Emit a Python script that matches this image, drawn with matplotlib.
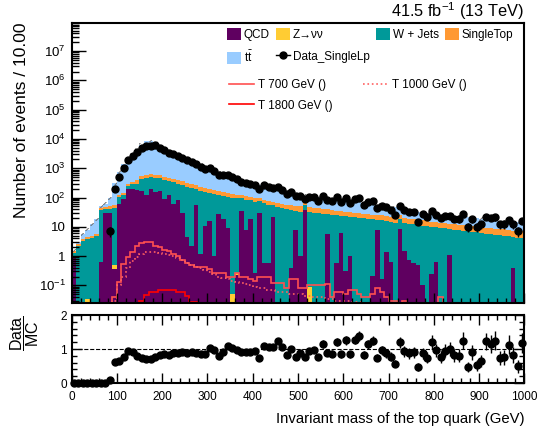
import numpy as np
import matplotlib
matplotlib.use("Agg")
import matplotlib.pyplot as plt
from matplotlib.patches import Patch
from matplotlib.lines import Line2D
from matplotlib.ticker import FixedLocator, LogLocator, MultipleLocator, FuncFormatter, NullFormatter

plt.rcParams['font.family'] = ['Liberation Sans', 'DejaVu Sans']
plt.rcParams['mathtext.fontset'] = 'custom'
plt.rcParams['mathtext.rm'] = 'Liberation Sans'
plt.rcParams['mathtext.it'] = 'Liberation Sans:italic'
plt.rcParams['mathtext.bf'] = 'Liberation Sans:bold'
plt.rcParams['hatch.linewidth'] = 0.7

# 100 bins of 10 GeV
bin_edges = np.linspace(0, 1000, 101)

qcd = [0.95, 0, 0, 0, 0, 0, 0.65, 29, 29, 0.35,
       60, 90, 190, 200, 180, 170, 120, 200, 150, 170,
       90, 120, 60, 80, 29, 4.6, 2.3, 55, 1.2, 10.5,
       16, 1.0, 27, 19, 8.8, 0, 0.22, 35, 8, 18,
       0.26, 30, 0.56, 0.56, 21, 0, 0, 0, 0.38, 8,
       1.0, 37, 0, 0, 0, 0, 5.8, 0, 0.6, 6.2,
       0.3, 1.0, 0, 0, 0, 0, 0.21, 7.8, 0.16, 1.4,
       0.65, 0, 8.7, 1.5, 0.72, 0.6, 0.5, 0.1, 0, 0.25,
       0.65, 0, 0, 1.07, 0, 0, 0, 0, 0, 0,
       0, 0, 0, 0, 0, 0, 0, 0.38, 0, 0]

zvv = [0, 0, 0, 0.035, 0, 0, 0, 0, 0, 0.15,
       0, 0, 0, 0, 0, 0, 0, 0, 0, 0,
       0, 0, 0, 0, 0, 0, 0, 0, 0, 0,
       0, 0, 0, 0, 0, 0.05, 0.04, 0, 0, 0,
       0, 0, 0, 0, 0, 0, 0, 0, 0, 0,
       0, 0, 0.09, 0, 0, 0, 0, 0, 0, 0,
       0, 0, 0, 0, 0, 0, 0, 0, 0, 0,
       0, 0, 0, 0, 0, 0, 0, 0, 0, 0,
       0, 0, 0, 0, 0, 0, 0, 0, 0, 0,
       0, 0, 0, 0, 0, 0, 0, 0, 0, 0]

wjets = [0.35, 2.2, 3.4, 3.8, 4.3, 5.0, 36, 11, 13, 44,
         45, 30, 60, 80, 120, 250, 360, 300, 330, 280,
         310, 250, 280, 220, 240, 225, 203, 135, 169, 145,
         129, 134, 98, 96, 99, 100, 95, 60, 77, 62,
         72, 45, 64, 57, 33, 48, 44, 40, 37, 27,
         32, 18, 31, 30, 29, 28, 21, 26, 24.4, 17.8,
         22.7, 21, 21, 20, 19.5, 19, 17.8, 9.7, 16.8, 14.6,
         14.3, 14, 9.3, 11.5, 11.8, 11.4, 11, 10.9, 10.5, 9.75,
         8.95, 9.2, 8.8, 7.3, 8.0, 7.6, 7.3, 7.0, 6.7, 6.4,
         6.1, 5.8, 5.6, 5.3, 5.1, 4.9, 4.7, 4.1, 4.3, 4.1]

singletop = [0.15, 0.3, 0.5, 0.6, 0.7, 0.9, 6, 7, 8, 10,
             15, 22, 50, 65, 85, 110, 125, 130, 128, 122,
             115, 108, 102, 97, 92, 88, 80, 72, 64, 56,
             50, 45, 41, 38, 35, 32, 30, 28, 26, 24,
             23, 22, 21, 20, 19, 18.5, 18, 17.5, 17, 17,
             17, 16, 15, 14.5, 14, 13, 12.5, 12, 11, 10.5,
             10, 9.6, 9.3, 9, 8.7, 8.4, 8.1, 7.8, 7.5, 7.2,
             7, 6.7, 6.5, 6.3, 6.1, 5.9, 5.7, 5.5, 5.3, 5.1,
             5, 4.8, 4.6, 4.5, 4.3, 4.2, 4.1, 4, 3.9, 3.8,
             3.7, 3.6, 3.5, 3.4, 3.3, 3.2, 3.1, 3.0, 3.0, 2.9]

ttbar = [0.1, 0.5, 1.6, 3.6, 7, 12, 7.4, 15, 45, 255,
         650, 1230, 1700, 2550, 4100, 5870, 7600, 7570, 7190, 5530,
         4385, 3622, 3008, 2553, 2149, 1822, 1535, 1288, 1086, 908,
         760, 652, 558, 478, 419, 358, 312, 266, 236, 212,
         193, 166, 154, 141, 131, 124, 112, 104, 97, 89,
         73, 46, 66, 62, 59, 59, 56, 53, 51, 48.5,
         46, 44.4, 41.7, 40, 37.8, 35.6, 33.9, 32.2, 30.5, 29.3,
         27, 25, 18.2, 20.5, 18.1, 16.4, 15.2, 14.4, 13.7, 13.1,
         12.3, 12, 11.7, 11.1, 10.9, 10.6, 10.2, 9.9, 9.4, 9.1,
         8.8, 8.6, 8.3, 8.1, 7.8, 7.6, 7.3, 7.1, 6.8, 6.6]

data_counts = [0, 0, 0, 0, 0, 0, 0, 0, 7, 195,
               500, 1030, 1900, 2600, 3600, 4800, 5750, 5800, 6000, 5000,
               4120, 3320, 3000, 2630, 2259, 1905, 1638, 1349, 1135, 952,
               993, 799, 586, 581, 607, 500, 424, 350, 316, 288,
               274, 192, 262, 234, 214, 233, 183, 133, 151, 109,
               109, 90, 106, 104, 77, 115, 85, 79, 104, 70,
               99, 64, 92, 95, 54, 72, 75, 43, 53, 46,
               38, 26, 51, 37, 32, 31, 15, 27, 22, 34,
               26, 20, 24, 24, 19, 18, 27, 10, 18, 10,
               12, 22, 20, 21, 12, 12, 17, 12, 7, 16]

t700 = [0, 0, 0, 0, 0, 0, 0, 0, 0, 0.04,
        0.13, 0.55, 0.95, 1.4, 2.2, 2.8, 3.1, 3.0, 2.3, 2.0,
        1.6, 1.5, 1.2, 1.0, 0.73, 0.6, 0.5, 0.44, 0.44, 0.44,
        0.35, 0.26, 0.26, 0.26, 0.2, 0.2, 0.26, 0.2, 0.2, 0.17,
        0.14, 0.2, 0.2, 0.2, 0.12, 0.12, 0.12, 0.08, 0.17, 0.17,
        0.08, 0.08, 0.1, 0.1, 0.1, 0.1, 0.11, 0.04, 0.06, 0.06,
        0.05, 0.07, 0.07, 0.05, 0.04, 0.04, 0.05, 0.08, 0.06, 0.04,
        0.03, 0.03, 0.02, 0.03, 0.02, 0, 0.02, 0, 0, 0,
        0, 0.04, 0, 0, 0, 0, 0, 0, 0, 0,
        0, 0, 0, 0, 0, 0, 0, 0, 0, 0]

t1000 = [0, 0, 0, 0, 0, 0, 0, 0, 0, 0.03,
         0.1, 0.2, 0.4, 0.7, 0.95, 1.2, 1.35, 1.4, 1.35, 1.3,
         1.2, 1.1, 1.0, 0.85, 0.75, 0.6, 0.5, 0.43, 0.38, 0.33,
         0.28, 0.24, 0.2, 0.18, 0.16, 0.14, 0.13, 0.12, 0.11, 0.1,
         0.09, 0.08, 0.08, 0.07, 0.07, 0.06, 0.06, 0.06, 0.05, 0.05,
         0.05, 0.045, 0.045, 0.04, 0.04, 0.04, 0.035, 0.035, 0.03, 0.03,
         0.03, 0.03, 0.028, 0.028, 0.026, 0.026, 0.025, 0.025, 0, 0,
         0, 0, 0, 0, 0, 0, 0, 0, 0, 0,
         0, 0, 0, 0, 0, 0, 0, 0, 0, 0,
         0, 0, 0, 0, 0, 0, 0, 0, 0, 0]

t1800 = [0, 0, 0, 0, 0, 0, 0, 0, 0, 0,
         0, 0, 0, 0, 0, 0.03, 0.047, 0.06, 0.06, 0.068,
         0.07, 0.07, 0.068, 0.06, 0.06, 0.045, 0.028, 0.027, 0, 0,
         0, 0, 0, 0, 0, 0, 0, 0, 0, 0,
         0, 0, 0, 0, 0, 0, 0, 0, 0, 0,
         0, 0, 0, 0, 0, 0, 0, 0, 0, 0,
         0, 0, 0, 0, 0, 0, 0, 0, 0, 0,
         0, 0, 0, 0, 0, 0, 0, 0, 0, 0,
         0, 0, 0, 0, 0, 0, 0, 0, 0, 0,
         0, 0, 0, 0, 0, 0, 0, 0, 0, 0]

mc_unc_frac = 0.12

colors = {"QCD": "#5f0060", "Z": "#ffcc33", "W": "#009999",
          "ST": "#ff9933", "TT": "#99ccff"}
sig_colors = {"700": "#ff5050", "1000": "#ff6060", "1800": "#ff0000"}

fig = plt.figure(figsize=(5.38, 4.30), dpi=100)
ax = fig.add_axes([0.1329, 0.2953, 0.842, 0.6519])
rax = fig.add_axes([0.1329, 0.1093, 0.842, 0.158])

# stacked backgrounds
layers = [(qcd, colors["QCD"]), (zvv, colors["Z"]), (wjets, colors["W"]),
          (singletop, colors["ST"]), (ttbar, colors["TT"])]
bottom = np.zeros(len(bin_edges) - 1)
for vals, col in layers:
    top = bottom + np.array(vals, dtype=float)
    ax.stairs(top, bin_edges, baseline=bottom, fill=True, color=col, lw=0)
    bottom = top
total = bottom

# MC uncertainty band
ax.stairs(total * (1 + mc_unc_frac), bin_edges, baseline=total * (1 - mc_unc_frac),
          fill=True, facecolor="none", edgecolor="#707070", hatch="////", lw=0)

# signals
ax.stairs(t700, bin_edges, color=sig_colors["700"], lw=1.2)
ax.stairs(t1000, bin_edges, color=sig_colors["1000"], lw=1.2, ls=":")
ax.stairs(t1800, bin_edges, color=sig_colors["1800"], lw=1.2)

# data
centers = 0.5 * (bin_edges[1:] + bin_edges[:-1])
data = np.array(data_counts, dtype=float)
has = data > 0
ax.errorbar(centers[has], data[has], yerr=np.sqrt(data[has]), fmt="o", color="k",
            ms=5, elinewidth=1, capsize=0, zorder=5)

ax.set_yscale("log")
ax.set_xlim(0, 1000)
ax.set_ylim(0.025, 9.3e7)

def log_label(v, pos):
    e = int(round(np.log10(v)))
    if e == 0:
        return "1"
    if e == 1:
        return "10"
    return r"$10^{%d}$" % e

ax.yaxis.set_major_locator(FixedLocator([10.0 ** e for e in range(-1, 8)]))
ax.yaxis.set_major_formatter(FuncFormatter(log_label))
ax.yaxis.set_minor_locator(LogLocator(base=10, subs=np.arange(2, 10), numticks=20))
ax.yaxis.set_minor_formatter(NullFormatter())
ax.xaxis.set_major_locator(MultipleLocator(100))
ax.xaxis.set_minor_locator(MultipleLocator(20))
ax.tick_params(which="both", direction="in", left=True, right=False, top=False,
               bottom=True, labelbottom=False, width=1)
ax.tick_params(axis="y", which="major", length=10, labelsize=9.5, pad=4)
ax.tick_params(axis="y", which="minor", length=5)
ax.tick_params(axis="x", which="major", length=7)
ax.tick_params(axis="x", which="minor", length=3.5)
for sp in ax.spines.values():
    sp.set_linewidth(1.5)

ax.set_ylabel("Number of events / 10.00", fontsize=12.5, loc="top")
ax.yaxis.set_label_coords(-0.094, 1.0)

ax.text(1.0, 1.02, r"41.5 fb$^{-1}$ (13 TeV)", transform=ax.transAxes,
        ha="right", va="baseline", fontsize=11.8)

# legends
h_qcd = Patch(facecolor=colors["QCD"], label="QCD")
h_z = Patch(facecolor=colors["Z"], label="Z\u2192\u03bd\u03bd")
h_w = Patch(facecolor=colors["W"], label="W + Jets")
h_st = Patch(facecolor=colors["ST"], label="SingleTop")
h_tt = Patch(facecolor=colors["TT"], label=r"$\mathrm{t\bar{t}}$")
h_data = Line2D([], [], color="k", marker="o", ms=5, lw=1, label="Data_SingleLp")
leg1 = ax.legend(handles=[h_qcd, h_tt, h_z, h_data, h_w, h_st], ncol=4,
                 loc="upper left", bbox_to_anchor=(0.343, 0.981), frameon=False,
                 fontsize=8.5, handlelength=1.2, handleheight=1.2, handletextpad=0.25,
                 columnspacing=0.5, labelspacing=0.75, borderpad=0, borderaxespad=0)
ax.add_artist(leg1)
h_700 = Line2D([], [], color=sig_colors["700"], lw=1.2, label="T 700 GeV ()")
h_1000 = Line2D([], [], color=sig_colors["1000"], lw=1.2, ls=":", label="T 1000 GeV ()")
h_1800 = Line2D([], [], color=sig_colors["1800"], lw=1.2, label="T 1800 GeV ()")
ax.legend(handles=[h_700, h_1800, h_1000], ncol=2, loc="upper left",
          bbox_to_anchor=(0.348, 0.80), frameon=False, fontsize=8.5,
          handlelength=2.1, handletextpad=0.35, columnspacing=2.6,
          labelspacing=0.75, borderpad=0, borderaxespad=0)

# ratio panel
ratio = data / total
ratio_err = np.sqrt(data) / total
rax.axhline(1.0, color="k", ls="--", lw=0.8)
rax.errorbar(centers, ratio, yerr=ratio_err, fmt="o", color="k", ms=5,
             elinewidth=1, capsize=0, clip_on=False, zorder=5)
rax.set_xlim(0, 1000)
rax.set_ylim(0, 2)
rax.yaxis.set_major_locator(FixedLocator([0, 1, 2]))
rax.yaxis.set_minor_locator(MultipleLocator(0.2))
rax.xaxis.set_major_locator(MultipleLocator(100))
rax.xaxis.set_minor_locator(MultipleLocator(20))
rax.tick_params(which="both", direction="in", top=True, right=True, width=1)
rax.tick_params(which="major", length=7, labelsize=8.5)
rax.tick_params(which="minor", length=3.5)
rax.tick_params(axis="x", which="major", pad=6)
for sp in rax.spines.values():
    sp.set_linewidth(1.5)
rax.set_xlabel("Invariant mass of the top quark (GeV)", fontsize=10.7, loc="right",
               labelpad=6)
rax.set_ylabel(r"$\dfrac{\mathrm{Data}}{\mathrm{MC}}$", fontsize=11.5, loc="top")
rax.yaxis.set_label_coords(-0.068, 1.0)

fig.savefig("out.png", dpi=100)
